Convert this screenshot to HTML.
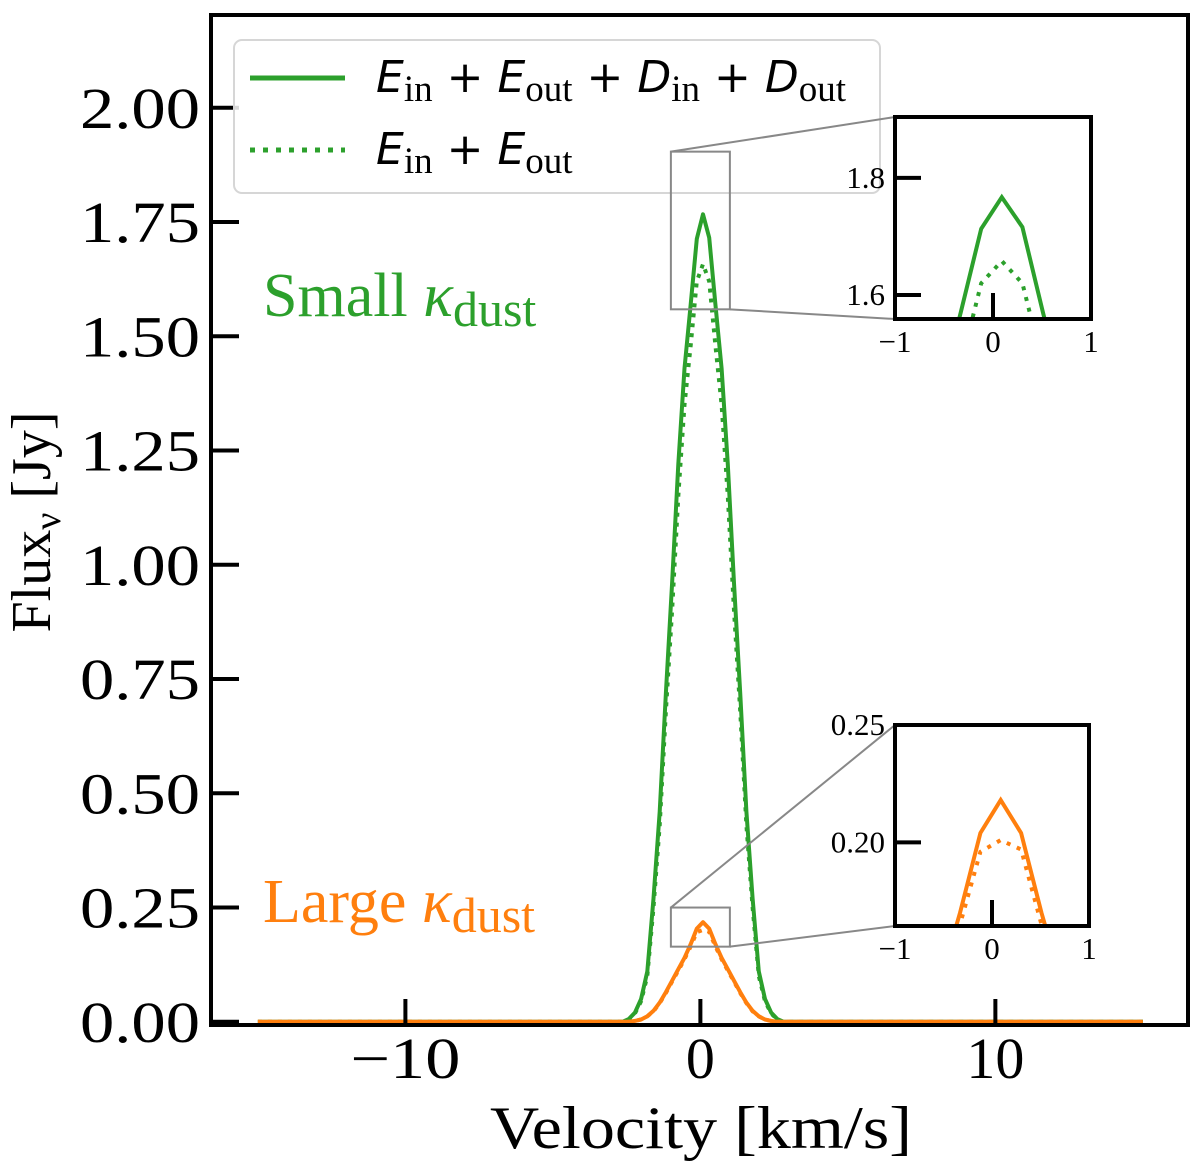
<!DOCTYPE html>
<html><head><meta charset="utf-8"><style>
html,body{margin:0;padding:0;background:#fff;overflow:hidden;width:1200px;height:1176px;}
svg{display:block;}
text{font-family:"Liberation Serif",serif;}
</style></head><body>
<svg id="chart" width="1200" height="1176" viewBox="0 0 1200 1176" xmlns="http://www.w3.org/2000/svg">
</svg>
<script>
const velocity = [-15, -2.64, -2.43, -2.22, -2.01, -1.80, -1.59, -1.38, -1.17, -0.96, -0.75, -0.54, -0.33, -0.12, 0.09, 0.30, 0.51, 0.72, 0.93, 1.14, 1.35, 1.56, 1.77, 1.98, 2.19, 2.40, 2.61, 2.82, 15];
const smallTotal = [0, 0, 0.006, 0.02, 0.05, 0.11, 0.27, 0.46, 0.72, 0.96, 1.22, 1.43, 1.57, 1.713, 1.767, 1.716, 1.57, 1.43, 1.22, 0.96, 0.72, 0.46, 0.27, 0.11, 0.05, 0.02, 0.006, 0, 0];
const smallE = [0, 0, 0.005, 0.018, 0.045, 0.10, 0.25, 0.43, 0.68, 0.90, 1.15, 1.35, 1.48, 1.62, 1.658, 1.62, 1.48, 1.35, 1.15, 0.90, 0.68, 0.43, 0.25, 0.10, 0.045, 0.018, 0.005, 0, 0];
const largeTotal = [0, 0, 0, 0.002, 0.005, 0.012, 0.024, 0.042, 0.065, 0.09, 0.115, 0.14, 0.17, 0.204, 0.218, 0.204, 0.17, 0.14, 0.115, 0.09, 0.065, 0.042, 0.024, 0.012, 0.005, 0.002, 0, 0, 0];
const largeE = [0, 0, 0, 0.002, 0.005, 0.012, 0.023, 0.041, 0.063, 0.088, 0.112, 0.137, 0.165, 0.196, 0.201, 0.197, 0.165, 0.137, 0.112, 0.088, 0.063, 0.041, 0.023, 0.012, 0.005, 0.002, 0, 0, 0];
const yTicks = [0, 0.25, 0.5, 0.75, 1.0, 1.25, 1.5, 1.75, 2.0];
const yTickLabels = ["0.00","0.25","0.50","0.75","1.00","1.25","1.50","1.75","2.00"];
const xTicks = [-10, 0, 10];
const xTickLabels = ["\u221210","0","10"];
const insetXTicks = [-1, 0, 1];
const insetXTickLabels = ["\u22121","0","1"];
const greenInsetYTicks = [1.6, 1.8];
const greenInsetYLabels = ["1.6","1.8"];
const orangeInsetYTicks = [0.20, 0.25];
const orangeInsetYLabels = ["0.20","0.25"];

const NS = "http://www.w3.org/2000/svg";
const svg = document.getElementById('chart');
const GREEN = "#2ca02c", ORANGE = "#ff7f0e";
function mk(tag, attrs, parent, txt){
  const e = document.createElementNS(NS, tag);
  for (const k in attrs) e.setAttribute(k, attrs[k]);
  if (txt !== undefined) e.textContent = txt;
  (parent || svg).appendChild(e);
  return e;
}
const L = 211, R = 1188, T = 15, B = 1025;
const xMin = -16.59, xMax = 16.53, yMin = -0.007, yMax = 2.203;
const sx = v => L + (v - xMin) / (xMax - xMin) * (R - L);
const sy = v => B - (v - yMin) / (yMax - yMin) * (B - T);
function pathD(xs, ys, fx, fy){ return xs.map((x,i)=>(i?'L':'M')+fx(x).toFixed(1)+','+fy(ys[i]).toFixed(1)).join(' '); }

let e;
e = mk('path', {d: pathD(velocity, smallE, sx, sy), fill:'none', stroke:GREEN, 'stroke-width':4, 'stroke-dasharray':'4,6'});


e = mk('path', {d: pathD(velocity, smallTotal, sx, sy), fill:'none', stroke:GREEN, 'stroke-width':4, 'stroke-linejoin':'round'});


e = mk('path', {d: pathD(velocity, largeE, sx, sy), fill:'none', stroke:ORANGE, 'stroke-width':4, 'stroke-dasharray':'4,6'});


e = mk('path', {d: pathD(velocity, largeTotal, sx, sy), fill:'none', stroke:ORANGE, 'stroke-width':4, 'stroke-linejoin':'round'});



e = mk('rect', {x:L, y:T, width:R-L, height:B-T, fill:'none', stroke:'#000', 'stroke-width':4});


yTicks.forEach((v,i)=>{
  const y = sy(v);
  let t = mk('line', {x1:L, x2:L+28, y1:y, y2:y, stroke:'#000', 'stroke-width':4});
  
  
  t = mk('text', {x:80, y:y+20, 'font-size':58, textLength:120, lengthAdjust:'spacingAndGlyphs'}, svg, yTickLabels[i]);
  
  
});
xTicks.forEach((v,i)=>{
  const x = sx(v);
  let t = mk('line', {x1:x, x2:x, y1:B, y2:B-26, stroke:'#000', 'stroke-width':4});
  
  
  t = mk('text', {x:x, y:1078, 'text-anchor':'middle', 'font-size':58}, svg, xTickLabels[i]);
  if (i === 0) { t.setAttribute('textLength', 110); t.setAttribute('lengthAdjust', 'spacingAndGlyphs'); }
  
  
});
e = mk('text', {x:490, y:1148, 'font-size':60, textLength:422, lengthAdjust:'spacingAndGlyphs'}, svg, 'Velocity [km/s]');


e = mk('text', {x:0, y:0, 'text-anchor':'middle', 'font-size':56, transform:'translate(50,522) rotate(-90)'});


e.innerHTML = 'Flux<tspan font-size="38" dy="10">ν</tspan><tspan dy="-10"> [Jy]</tspan>';

e = mk('text', {x:263, y:316, fill:GREEN, 'font-size':62});


e.innerHTML = 'Small <tspan font-style="italic">κ</tspan><tspan font-size="50" dy="10">dust</tspan>';
e = mk('text', {x:263, y:922, fill:ORANGE, 'font-size':62});


e.innerHTML = 'Large <tspan font-style="italic">κ</tspan><tspan font-size="50" dy="10">dust</tspan>';

const lg = mk('g', {});


mk('rect', {x:234, y:40, width:646, height:153, rx:8, fill:'rgba(255,255,255,0.85)', stroke:'#d6d6d6', 'stroke-width':2}, lg);
e = mk('line', {x1:250, x2:345, y1:78, y2:78, stroke:GREEN, 'stroke-width':5}, lg);


e = mk('line', {x1:250, x2:345, y1:150, y2:150, stroke:GREEN, 'stroke-width':5, 'stroke-dasharray':'5,8'}, lg);


function legText(y, parts){
  const t = mk('text', {x:376, y:y, style:'font-family:"DejaVu Sans",sans-serif;font-size:44px'}, lg);
  let html = '';
  parts.forEach((p,i)=>{
    if (i) html += '<tspan dy="-9"> + </tspan>';
    html += '<tspan font-style="italic">' + p[0] + '</tspan><tspan style="font-family:\'Liberation Serif\',serif;font-size:37px" dy="9">' + p[1] + '</tspan>';
  });
  t.innerHTML = html;
  return t;
}
e = legText(92, [['E','in'],['E','out'],['D','in'],['D','out']]);


e = legText(164, [['E','in'],['E','out']]);



function inset(name, box, xr, yr, yt, ytl, data, color){
  const fx = v => box.x + (v - xr[0])/(xr[1]-xr[0])*box.w;
  const fy = v => box.y + box.h - (v - yr[0])/(yr[1]-yr[0])*box.h;
  const rx1 = sx(xr[0]), rx2 = sx(xr[1]), ry1 = sy(yr[1]), ry2 = sy(yr[0]);
  let t = mk('rect', {x:rx1, y:ry1, width:rx2-rx1, height:ry2-ry1, fill:'none', stroke:'#888', 'stroke-width':2});
  
  
  t = mk('line', {x1:rx1, y1:ry1, x2:box.x, y2:box.y, stroke:'#888', 'stroke-width':2});
  
  
  t = mk('line', {x1:rx2, y1:ry2, x2:box.x, y2:box.y+box.h, stroke:'#888', 'stroke-width':2});
  
  
  const g = mk('g', {});
  
  
  mk('rect', {x:box.x, y:box.y, width:box.w, height:box.h, fill:'#fff'}, g);
  const clip = mk('clipPath', {id:name+'-clip'}, g);
  mk('rect', {x:box.x, y:box.y, width:box.w, height:box.h}, clip);
  const cg = mk('g', {'clip-path':'url(#'+name+'-clip)'}, g);
  t = mk('path', {d: pathD(velocity, data[1], fx, fy), fill:'none', stroke:color, 'stroke-width':4, 'stroke-dasharray':'4,7'}, cg);
  
  
  t = mk('path', {d: pathD(velocity, data[0], fx, fy), fill:'none', stroke:color, 'stroke-width':4}, cg);
  
  
  mk('rect', {x:box.x, y:box.y, width:box.w, height:box.h, fill:'none', stroke:'#000', 'stroke-width':4}, g);
  yt.forEach((v,i)=>{
    const y = fy(v);
    let u = mk('line', {x1:box.x, x2:box.x+26, y1:y, y2:y, stroke:'#000', 'stroke-width':4}, g);
    
    
    u = mk('text', {x:box.x-10, y:y+10, 'text-anchor':'end', 'font-size':31}, g, ytl[i]);
    
    
  });
  insetXTicks.forEach((v,i)=>{
    const x = fx(v);
    let u;
    if (v === 0) {
      u = mk('line', {x1:x, x2:x, y1:box.y+box.h, y2:box.y+box.h-26, stroke:'#000', 'stroke-width':4}, g);
      
      
    }
    u = mk('text', {x:x, y:box.y+box.h+33, 'text-anchor':'middle', 'font-size':31}, g, insetXTickLabels[i]);
    
    
  });
}
inset('small-kappa-inset', {x:895, y:117, w:196, h:202}, [-1,1], [1.559,1.904], greenInsetYTicks, greenInsetYLabels, [smallTotal, smallE], GREEN);
inset('large-kappa-inset', {x:895, y:725, w:194, h:201}, [-1,1], [0.1644,0.25], orangeInsetYTicks, orangeInsetYLabels, [largeTotal, largeE], ORANGE);
</script>
</body></html>
